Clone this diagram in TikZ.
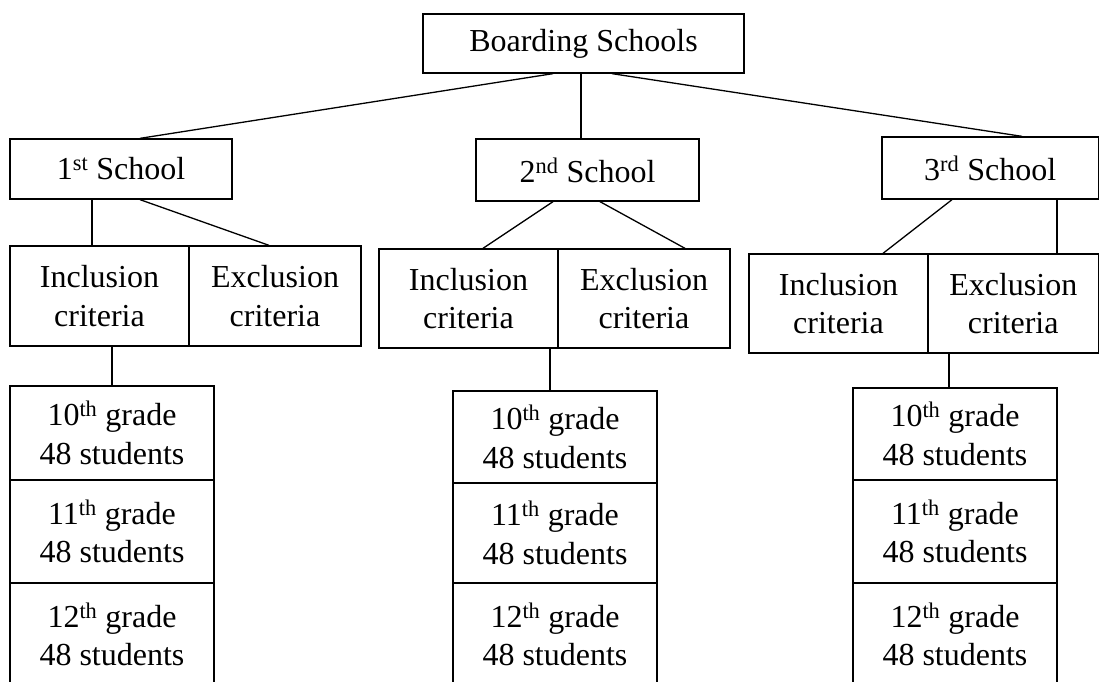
\documentclass[tikz,border=0pt]{standalone}
\usepackage{fontspec}
\setmainfont{Liberation Serif}
\begin{document}
\begin{tikzpicture}[x=1pt,y=-1pt,
  box/.style={draw, line width=1.3pt, inner sep=0pt, align=center,
    font=\fontsize{32}{38.5}\selectfont},
  link/.style={line width=1.3pt}]
\useasboundingbox (0,0) rectangle (1100,682);
\clip (0,0) rectangle (1100,682);
% top
\node[box, minimum width=321pt, minimum height=59pt] (bs) at (583.5,43.5) {Boarding Schools};
% schools
\node[box, minimum width=222pt, minimum height=60pt] (s1) at (121,169) {1\textsuperscript{st} School};
\node[box, minimum width=223pt, minimum height=62pt] (s2) at (587.5,170) {2\textsuperscript{nd} School};
\node[box, minimum width=216.5pt, minimum height=62pt] (s3) at (990.25,168) {3\textsuperscript{rd} School};
% criteria
\node[box, minimum width=179pt, minimum height=100pt] (i1) at (99.5,296) {Inclusion\\criteria};
\node[box, minimum width=172pt, minimum height=100pt] (e1) at (275,296) {Exclusion\\criteria};
\node[box, minimum width=179pt, minimum height=99pt] (i2) at (468.5,298.5) {Inclusion\\criteria};
\node[box, minimum width=172pt, minimum height=99pt] (e2) at (644,298.5) {Exclusion\\criteria};
\node[box, minimum width=179pt, minimum height=99pt] (i3) at (838.5,303.5) {Inclusion\\criteria};
\node[box, minimum width=170.5pt, minimum height=99pt] (e3) at (1013.25,303.5) {Exclusion\\criteria};
% grades column 1
\node[box, minimum width=204pt, minimum height=94pt] (g1a) at (112,433) {10\textsuperscript{th} grade\\48 students};
\node[box, minimum width=204pt, minimum height=103pt] (g1b) at (112,531.5) {11\textsuperscript{th} grade\\48 students};
\node[box, minimum width=204pt, minimum height=103pt] (g1c) at (112,634.5) {12\textsuperscript{th} grade\\48 students};
% grades column 2
\node[box, minimum width=204pt, minimum height=92pt] (g2a) at (555,437) {10\textsuperscript{th} grade\\48 students};
\node[box, minimum width=204pt, minimum height=100pt] (g2b) at (555,533) {11\textsuperscript{th} grade\\48 students};
\node[box, minimum width=204pt, minimum height=103pt] (g2c) at (555,634.5) {12\textsuperscript{th} grade\\48 students};
% grades column 3
\node[box, minimum width=204pt, minimum height=92pt] (g3a) at (955,434) {10\textsuperscript{th} grade\\48 students};
\node[box, minimum width=204pt, minimum height=103pt] (g3b) at (955,531.5) {11\textsuperscript{th} grade\\48 students};
\node[box, minimum width=204pt, minimum height=103pt] (g3c) at (955,634.5) {12\textsuperscript{th} grade\\48 students};
% connectors
\draw[link] (bs.south -| 553,0) -- (s1.north -| 140,0);
\draw[link] (bs.south -| 581,0) -- (s2.north -| 581,0);
\draw[link] (bs.south -| 612,0) -- (s3.north -| 1022,0);
\draw[link] (s1.south -| 92,0) -- (i1.north -| 92,0);
\draw[link] (s1.south -| 140,0) -- (e1.north -| 269,0);
\draw[link] (s2.south -| 553,0) -- (i2.north -| 483,0);
\draw[link] (s2.south -| 600,0) -- (e2.north -| 685,0);
\draw[link] (s3.south -| 952,0) -- (i3.north -| 883,0);
\draw[link] (s3.south -| 1057,0) -- (e3.north -| 1057,0);
\draw[link] (i1.south -| 112,0) -- (g1a.north -| 112,0);
\draw[link] (i2.south -| 550,0) -- (g2a.north -| 550,0);
\draw[link] (e3.south -| 949,0) -- (g3a.north -| 949,0);
\end{tikzpicture}
\end{document}
